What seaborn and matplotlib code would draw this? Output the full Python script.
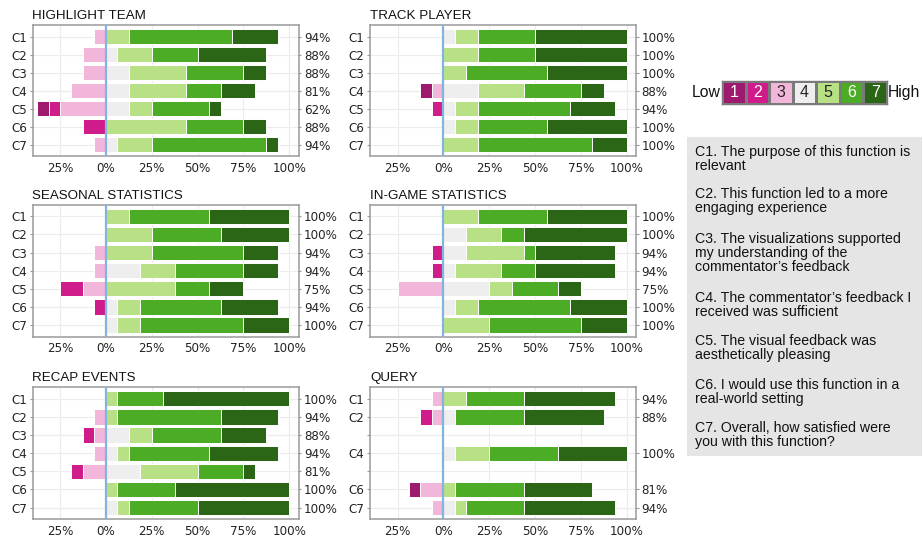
import numpy as np
import pandas as pd
import matplotlib
matplotlib.use("Agg")
import matplotlib.pyplot as plt
from matplotlib.colors import ListedColormap
import seaborn as sns

N_RESPONDENTS = 16
QUESTIONS = ["C1", "C2", "C3", "C4", "C5", "C6", "C7"]
RATINGS = [1, 2, 3, 4, 5, 6, 7]
RATING_COLORS = ["#9e1a6e", "#d01c8b", "#f1b6da", "#eeeeee",
                 "#b8e186", "#4dac26", "#2b6516"]

# Number of respondents giving each rating (1..7) per question
highlight_team = [
    [0, 0, 1, 0, 2, 9, 4],
    [0, 0, 2, 1, 3, 4, 6],
    [0, 0, 2, 2, 5, 5, 2],
    [0, 0, 3, 2, 5, 3, 3],
    [1, 1, 4, 2, 2, 5, 1],
    [0, 2, 0, 0, 7, 5, 2],
    [0, 0, 1, 1, 3, 10, 1],
]
track_player = [
    [0, 0, 0, 1, 2, 5, 8],
    [0, 0, 0, 0, 3, 5, 8],
    [0, 0, 0, 0, 2, 7, 7],
    [1, 0, 1, 3, 4, 5, 2],
    [0, 1, 0, 1, 2, 8, 4],
    [0, 0, 0, 1, 2, 6, 7],
    [0, 0, 0, 0, 3, 10, 3],
]
seasonal_statistics = [
    [0, 0, 0, 0, 2, 7, 7],
    [0, 0, 0, 0, 4, 6, 6],
    [0, 0, 1, 0, 4, 8, 3],
    [0, 0, 1, 3, 3, 6, 3],
    [0, 2, 2, 0, 6, 3, 3],
    [0, 1, 0, 1, 2, 7, 5],
    [0, 0, 0, 1, 2, 9, 4],
]
in_game_statistics = [
    [0, 0, 0, 0, 3, 6, 7],
    [0, 0, 0, 2, 3, 2, 9],
    [0, 1, 0, 2, 5, 1, 7],
    [0, 1, 0, 1, 4, 3, 7],
    [0, 0, 4, 4, 2, 4, 2],
    [0, 0, 0, 1, 2, 8, 5],
    [0, 0, 0, 0, 4, 8, 4],
]
recap_events = [
    [0, 0, 0, 0, 1, 4, 11],
    [0, 0, 1, 0, 1, 9, 5],
    [0, 1, 1, 2, 2, 6, 4],
    [0, 0, 1, 1, 1, 7, 6],
    [0, 1, 2, 3, 5, 4, 1],
    [0, 0, 0, 0, 1, 5, 10],
    [0, 0, 0, 1, 1, 6, 8],
]
query = [
    [0, 0, 1, 0, 2, 5, 8],
    [0, 1, 1, 1, 0, 6, 7],
    None,
    [0, 0, 0, 1, 3, 6, 6],
    None,
    [1, 0, 2, 0, 1, 6, 6],
    [0, 0, 1, 1, 1, 5, 8],
]

PANEL_TITLES = ["HIGHLIGHT TEAM", "TRACK PLAYER", "SEASONAL STATISTICS",
                "IN-GAME STATISTICS", "RECAP EVENTS", "QUERY"]
PANEL_DATA = [highlight_team, track_player, seasonal_statistics,
              in_game_statistics, recap_events, query]

X_TICKS = [-25, 0, 25, 50, 75, 100]
X_TICK_LABELS = ["25%", "0%", "25%", "50%", "75%", "100%"]

QUESTION_TEXTS = [
    "C1. The purpose of this function is\nrelevant",
    "C2. This function led to a more\nengaging experience",
    "C3. The visualizations supported\nmy understanding of the\ncommentator\u2019s feedback",
    "C4. The commentator\u2019s feedback I\nreceived was sufficient",
    "C5. The visual feedback was\naesthetically pleasing",
    "C6. I would use this function in a\nreal-world setting",
    "C7. Overall, how satisfied were\nyou with this function?",
]

sns.set_theme(style="whitegrid", rc={
    "axes.edgecolor": "#9a9a9a",
    "axes.linewidth": 1.1,
    "grid.color": "#ececec",
    "grid.linewidth": 0.8,
})
plt.rcParams["font.family"] = ["DejaVu Sans"]

W, H = 922, 538
fig = plt.figure(figsize=(W / 100, H / 100), dpi=100)


def px_axes(x0, y0, x1, y1):
    return fig.add_axes([x0 / W, 1 - y1 / H, (x1 - x0) / W, (y1 - y0) / H])


def long_table(counts):
    rows = []
    for q, c in zip(QUESTIONS, counts):
        if c is None:
            continue
        pct = np.array(c, dtype=float) / N_RESPONDENTS * 100
        for r in RATINGS:
            if r <= 3:
                end = -pct[r - 1:3].sum()
            else:
                end = pct[3:r].sum()
            rows.append({"question": q, "rating": r, "end": end})
    return pd.DataFrame(rows)


def draw_panel(ax, title, counts):
    df = long_table(counts)
    # outer segments first; each inner cumulative bar overdraws the previous
    for r in [7, 6, 5, 4, 1, 2, 3]:
        sub = df[df["rating"] == r]
        sns.barplot(data=sub, x="end", y="question", order=QUESTIONS,
                    orient="y", color=RATING_COLORS[r - 1], saturation=1,
                    width=0.84, errorbar=None, edgecolor="white",
                    linewidth=0.7, ax=ax)
    ax.axvline(0, color="#82b4df", lw=1.6, zorder=6)
    ax.set_xlim(-40, 105)
    ax.set_ylim(6.63, -0.65)
    ax.set_xticks(X_TICKS)
    ax.set_xticklabels(X_TICK_LABELS)
    ax.set_yticks(range(len(QUESTIONS)))
    ax.set_yticklabels([q if c is not None else "" for q, c in zip(QUESTIONS, counts)])
    ax.set_xlabel("")
    ax.set_ylabel("")
    ax.grid(True, axis="both", color="#ececec", lw=0.8)
    ax.set_axisbelow(True)
    ax.tick_params(axis="both", length=2.5, pad=1.5, width=0.8,
                   color="#9a9a9a", labelcolor="#222222")
    ax.tick_params(axis="x", labelsize=8.6)
    ax.tick_params(axis="y", labelsize=8.6)
    for s in ax.spines.values():
        s.set_visible(True)
        s.set_color("#9a9a9a")
        s.set_linewidth(1.1)
    ax.set_title(title, loc="left", fontsize=9.6, pad=4,
                 family="Liberation Sans", color="#111111")

    # share of neutral-or-positive answers on the right side
    pos, labels = [], []
    for i, c in enumerate(counts):
        if c is None:
            continue
        share = sum(c[3:]) / N_RESPONDENTS * 100
        pos.append(i)
        labels.append(f"{round(share)}%")
    ax2 = ax.twinx()
    ax2.set_ylim(ax.get_ylim())
    ax2.set_yticks(pos)
    ax2.set_yticklabels(labels)
    ax2.grid(False)
    ax2.tick_params(axis="y", length=2.5, pad=1.5, width=0.8,
                    color="#9a9a9a", labelsize=8.6, labelcolor="#222222")
    for s in ax2.spines.values():
        s.set_visible(False)


boxes = [
    (32.5, 25, 298.5, 156), (370, 25, 636, 156),
    (32.5, 204.5, 298.5, 336.5), (370, 204.5, 636, 336.5),
    (32.5, 387, 298.5, 519), (370, 387, 636, 519),
]
for (x0, y0, x1, y1), title, counts in zip(boxes, PANEL_TITLES, PANEL_DATA):
    draw_panel(px_axes(x0, y0, x1, y1), title, counts)

# rating scale key
ax_key = px_axes(722, 81, 887, 104)
sns.heatmap(np.array([RATINGS]), cmap=ListedColormap(RATING_COLORS),
            vmin=0.5, vmax=7.5, annot=True, fmt="d", cbar=False,
            linewidths=1.0, linecolor="#7a7a7a",
            annot_kws={"fontsize": 11.5, "family": "Liberation Sans"},
            xticklabels=False, yticklabels=False, ax=ax_key)
for s in ax_key.spines.values():
    s.set_visible(True)
    s.set_color("#7a7a7a")
    s.set_linewidth(1.0)
fig.text(721 / W, 1 - 92.5 / H, "Low", ha="right", va="center",
         fontsize=11.3, family="Liberation Sans", color="#111111")
fig.text(888 / W, 1 - 92.5 / H, "High", ha="left", va="center",
         fontsize=11.3, family="Liberation Sans", color="#111111")

# question descriptions
ax_txt = px_axes(687, 137, 922, 456)
ax_txt.set_facecolor("#e5e5e5")
ax_txt.set_xticks([])
ax_txt.set_yticks([])
ax_txt.grid(False)
for s in ax_txt.spines.values():
    s.set_visible(False)
first_baselines = [156, 198, 242, 302, 345, 389, 432]
line_step = 14.3
for y, txt in zip(first_baselines, QUESTION_TEXTS):
    n_lines = txt.count("\n") + 1
    # a multi-line text is anchored at the baseline of its last line
    y_last = y + (n_lines - 1) * line_step
    fig.text(695 / W, 1 - y_last / H, txt, ha="left", va="baseline",
             fontsize=10.2, family="Liberation Sans", linespacing=0.99,
             color="#111111")

fig.savefig("out.png", dpi=100)
